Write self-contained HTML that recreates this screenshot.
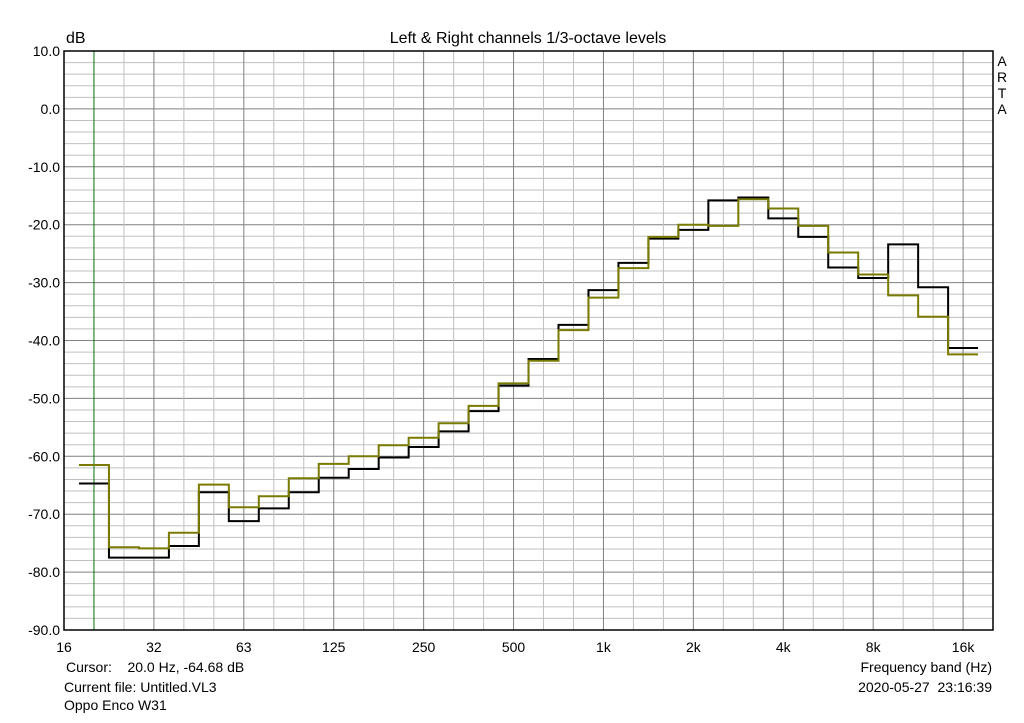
<!DOCTYPE html>
<html><head><meta charset="utf-8"><style>
body{margin:0;background:#fff;font-family:"Liberation Sans",sans-serif}
svg text{font-family:"Liberation Sans",sans-serif;font-size:14px;fill:#000;white-space:pre}
</style></head><body>
<svg id="chart" width="1024" height="718" xmlns="http://www.w3.org/2000/svg">
<g id="grid"></g><g id="series"></g><g id="labels"></g>
<rect x="64" y="51" width="929" height="579" fill="none" stroke="#000" stroke-width="1.5"/>
<text x="66" y="43" style="font-size:16px">dB</text>
<text x="528" y="43" text-anchor="middle" style="font-size:16px">Left &amp; Right channels 1/3-octave levels</text>
<text x="1002" y="66" text-anchor="middle">A</text>
<text x="1002" y="82" text-anchor="middle">R</text>
<text x="1002" y="98" text-anchor="middle">T</text>
<text x="1002" y="114" text-anchor="middle">A</text>
<text x="66" y="672">Cursor:    20.0 Hz, -64.68 dB</text>
<text x="992" y="672" text-anchor="end">Frequency band (Hz)</text>
<text x="64" y="692">Current file: Untitled.VL3</text>
<text x="992" y="692" text-anchor="end">2020-05-27  23:16:39</text>
<text x="64" y="710">Oppo Enco W31</text>
</svg>
<script>
const bands=["20","25","31.5","40","50","63","80","100","125","160","200","250","315","400","500","630","800","1k","1.25k","1.6k","2k","2.5k","3.15k","4k","5k","6.3k","8k","10k","12.5k","16k"];
const blackValues=[-64.7,-77.5,-77.5,-75.5,-66.2,-71.2,-69,-66.2,-63.7,-62.2,-60.2,-58.4,-55.7,-52.2,-47.8,-43.2,-37.3,-31.3,-26.6,-22.4,-20.9,-15.8,-15.3,-18.9,-22.1,-27.4,-29.2,-23.4,-30.8,-41.3];
const oliveValues=[-61.5,-75.7,-75.9,-73.2,-64.9,-68.8,-66.9,-63.8,-61.3,-60,-58.1,-56.8,-54.3,-51.3,-47.4,-43.5,-38.2,-32.6,-27.5,-22.1,-20,-20.2,-15.6,-17.2,-20.2,-24.8,-28.6,-32.2,-35.9,-42.4];
const xTicks=["16","32","63","125","250","500","1k","2k","4k","8k","16k"];
const yTicks=[10,0,-10,-20,-30,-40,-50,-60,-70,-80,-90];
const NS="http://www.w3.org/2000/svg";
const X0=64,BW=29.97,Y0=51,YH=579,YMAX=10,YMIN=-90;
const xk=k=>X0+k*BW;
const y=v=>Y0+(YMAX-v)/(YMAX-YMIN)*YH;
function mk(tag,attrs,parent){const e=document.createElementNS(NS,tag);for(const a in attrs)e.setAttribute(a,attrs[a]);parent.appendChild(e);return e;}
const grid=document.getElementById('grid'),lab=document.getElementById('labels'),ser=document.getElementById('series');
for(let d=YMAX;d>=YMIN;d-=2){const l=mk('line',{x1:X0,x2:X0+929,y1:y(d),y2:y(d),stroke:d%10===0?'#808080':'#c0c0c0','stroke-width':1},grid);

}
for(let k=1;k<31;k++){const l=mk('line',{x1:xk(k),x2:xk(k),y1:Y0,y2:Y0+YH,stroke:k===1?'#007000':(k%3===0?'#808080':'#c0c0c0'),'stroke-width':1},grid);

}
yTicks.forEach(v=>{const t=mk('text',{x:60,y:y(v)+5,'text-anchor':'end'},lab);t.textContent=v.toFixed(1);

});
xTicks.forEach((s,i)=>{const t=mk('text',{x:xk(i*3),y:652,'text-anchor':'middle'},lab);t.textContent=s;

});
function steps(vals,color,name){let d='';vals.forEach((v,i)=>{const a=xk(i+1)-BW/2,b=xk(i+1)+BW/2;d+=(i?'L':'M')+a+','+y(v)+'L'+b+','+y(v);});
const p=mk('path',{d:d,fill:'none',stroke:color,'stroke-width':2},ser);

}
steps(blackValues,'#000','left-channel-line');
steps(oliveValues,'#7a7a00','right-channel-line');
</script>
</body></html>
